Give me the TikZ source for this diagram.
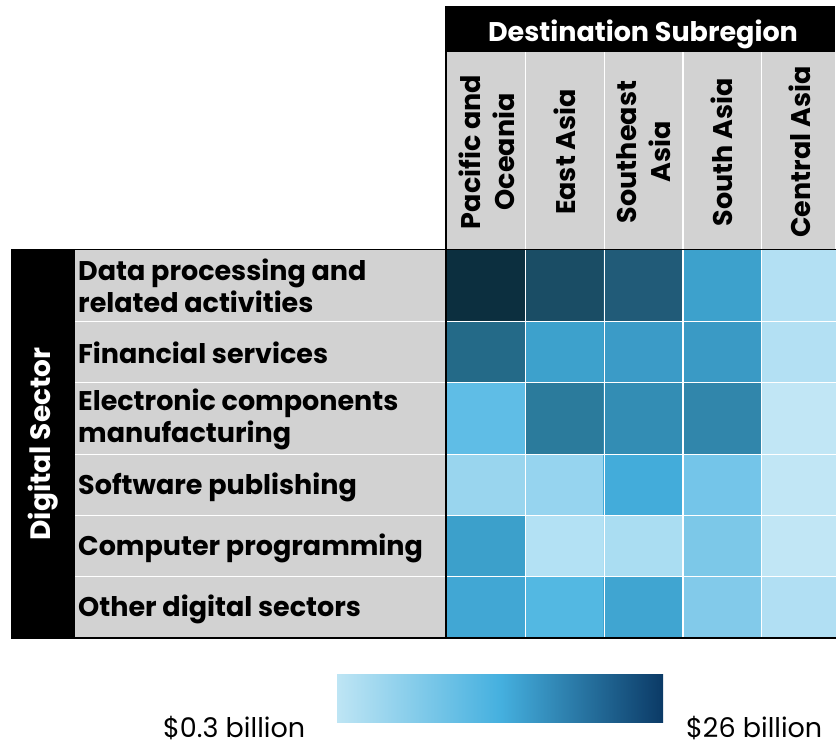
\documentclass[tikz,border=0pt]{standalone}
\usepackage{fontspec}
\setmainfont{Poppins}
\definecolor{hdrgray}{HTML}{D2D2D2}
\definecolor{cA}{HTML}{0C2F3F}
\definecolor{cB}{HTML}{1A4D65}
\definecolor{cC}{HTML}{215B78}
\definecolor{cD}{HTML}{3DA1CC}
\definecolor{cE}{HTML}{B3E0F3}
\definecolor{cF}{HTML}{246A88}
\definecolor{cG}{HTML}{3DA1CC}
\definecolor{cH}{HTML}{3B9BC7}
\definecolor{cI}{HTML}{3A9AC5}
\definecolor{cJ}{HTML}{B3E0F3}
\definecolor{cK}{HTML}{5FBDE6}
\definecolor{cL}{HTML}{2B7B9C}
\definecolor{cM}{HTML}{338DB4}
\definecolor{cN}{HTML}{3186AB}
\definecolor{cO}{HTML}{C1E6F5}
\definecolor{cP}{HTML}{99D5EE}
\definecolor{cQ}{HTML}{96D4EF}
\definecolor{cR}{HTML}{43ACDA}
\definecolor{cS}{HTML}{74C5E9}
\definecolor{cT}{HTML}{C1E6F5}
\definecolor{cU}{HTML}{3CA0CB}
\definecolor{cV}{HTML}{B3E1F4}
\definecolor{cW}{HTML}{AADDF2}
\definecolor{cX}{HTML}{7CC8E8}
\definecolor{cY}{HTML}{C1E6F5}
\definecolor{ca}{HTML}{41A7D4}
\definecolor{cb}{HTML}{53B8E2}
\definecolor{cc}{HTML}{40A5D1}
\definecolor{cd}{HTML}{82CAEA}
\definecolor{ce}{HTML}{B1DFF3}
\definecolor{gradL}{HTML}{BEE5F4}
\definecolor{gradM}{HTML}{45B0DF}
\definecolor{gradR}{HTML}{0B3A66}
\tikzset{
  boldlbl/.style={font=\bfseries\fontsize{27}{32}\selectfont, inner sep=0pt},
  rowlbl/.style={boldlbl, anchor=west, align=left, text=black},
  collbl/.style={font=\bfseries\fontsize{27}{34}\selectfont, inner sep=0pt, rotate=90, align=center, text=black},
  legendlbl/.style={font=\fontsize{27}{30}\selectfont, inner sep=0pt, anchor=base west},
  sepline/.style={white, line width=1.3pt},
  frameline/.style={black, line width=1.3pt}
}
\begin{document}
\begin{tikzpicture}[x=1pt,y=-1pt]
\useasboundingbox (0,0) rectangle (836,745);
% header
\fill[black] (446,6) rectangle (835,52);
\node[boldlbl, text=white, anchor=base] (title) at (643,41) {Destination Subregion};
\fill[hdrgray] (446,52) rectangle (835,249);
% row label area
\fill[black] (11,249) rectangle (75,638);
\fill[hdrgray] (75,249) rectangle (446,638);
% cells
\foreach \colr [count=\i from 0] in {cA,cB,cC,cD,cE}
  \fill[\colr] ({446+78.7*\i},249) rectangle ({446+78.7*(\i+1)},321.3);
\foreach \colr [count=\i from 0] in {cF,cG,cH,cI,cJ}
  \fill[\colr] ({446+78.7*\i},321.3) rectangle ({446+78.7*(\i+1)},382.7);
\foreach \colr [count=\i from 0] in {cK,cL,cM,cN,cO}
  \fill[\colr] ({446+78.7*\i},382.7) rectangle ({446+78.7*(\i+1)},454.3);
\foreach \colr [count=\i from 0] in {cP,cQ,cR,cS,cT}
  \fill[\colr] ({446+78.7*\i},454.3) rectangle ({446+78.7*(\i+1)},515.7);
\foreach \colr [count=\i from 0] in {cU,cV,cW,cX,cY}
  \fill[\colr] ({446+78.7*\i},515.7) rectangle ({446+78.7*(\i+1)},576.7);
\foreach \colr [count=\i from 0] in {ca,cb,cc,cd,ce}
  \fill[\colr] ({446+78.7*\i},576.7) rectangle ({446+78.7*(\i+1)},638);
% separators
\foreach \xx in {525.7,604.4,683.1,761.8}
  \draw[sepline] (\xx,52) -- (\xx,638);
\foreach \yy in {321.3,382.7,454.3,515.7,576.7}
  \draw[sepline] (75,\yy) -- (836,\yy);
% frame lines
\draw[frameline] (446,6) -- (446,638);
\draw[black, line width=1pt] (11,249) -- (836,249);
\draw[black, line width=1.3pt] (11,638) -- (836,638);
% column labels
\node[collbl] (c1) at (487,152) {Pacific and\\Oceania};
\node[collbl] (c2) at (565,152) {East Asia};
\node[collbl] (c3) at (644,152) {Southeast\\Asia};
\node[collbl] (c4) at (722,152) {South Asia};
\node[collbl] (c5) at (800,152) {Central Asia};
% row labels
\node[rowlbl] (r1) at (78,286) {Data processing and\\related activities};
\node[rowlbl] (r2) at (78,353) {Financial services};
\node[rowlbl] (r3) at (78,419.5) {Electronic components\\manufacturing};
\node[rowlbl] (r4) at (78,487) {Software publishing};
\node[rowlbl] (r5) at (78,548) {Computer programming};
\node[rowlbl] (r6) at (78,609) {Other digital sectors};
\node[font=\bfseries\fontsize{28}{32}\selectfont, inner sep=0pt, rotate=90, text=white] (ds) at (43,444) {Digital Sector};
% legend
\shade[left color=gradL, right color=gradR, middle color=gradM] (337,674) rectangle (663,722);
\node[legendlbl] (lmin) at (163,737) {\$0.3 billion};
\node[legendlbl] (lmax) at (686,737) {\$26 billion};
\end{tikzpicture}
\end{document}
